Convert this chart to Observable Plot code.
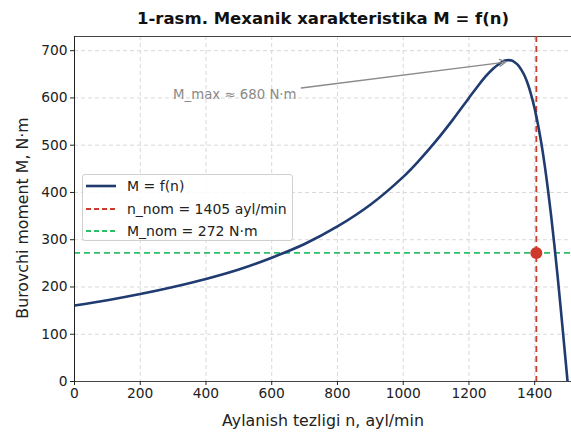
<!DOCTYPE html>
<html>
<head>
<meta charset="utf-8">
<script src="https://cdn.jsdelivr.net/npm/d3@7"></script>
<script src="https://cdn.jsdelivr.net/npm/@observablehq/plot@0.6"></script>
<style>
  body { margin: 0; background: #fff; }
  #wrap { position: relative; width: 571px; height: 434px; font-family: "DejaVu Sans", sans-serif; }
  #legend { position: absolute; left: 82px; top: 174px; width: 211px; height: 67px;
    border: 1px solid #d0d0d0; border-radius: 3px; background: rgba(255,255,255,0.85);
    font-size: 14px; color: #222; box-sizing: border-box; }
  .row { position: absolute; left: 3px; height: 20px; display: flex; align-items: center; }
  .row svg { margin-right: 11px; }
</style>
</head>
<body>
<div id="wrap"></div>
<script>
// Data
const speedN = [0, 100, 200, 300, 400, 500, 600, 700, 800, 900, 1000, 1050, 1100, 1150, 1200, 1225, 1250, 1275, 1290, 1300, 1310, 1320, 1330, 1340, 1350, 1360, 1370, 1380, 1390, 1400, 1410, 1420, 1430, 1440, 1450, 1460, 1470, 1480, 1490, 1500];
const torqueM = [161, 172, 185, 200, 217, 237, 262, 291, 328, 374, 433, 469, 509, 553, 600, 623, 645, 663, 671, 676, 679, 680, 679, 675, 669, 659, 646, 628, 605, 577, 544, 505, 460, 408, 351, 288, 221, 149, 75, 0];
const nNom = 1405;
const mNom = 272;
const mMax = 680;
const xTicks = [0, 200, 400, 600, 800, 1000, 1200, 1400];
const yTicks = [0, 100, 200, 300, 400, 500, 600, 700];
const titleText = "1-rasm. Mexanik xarakteristika M = f(n)";
const xLabel = "Aylanish tezligi n, ayl/min";
const yLabel = "Burovchi moment M, N·m";
const annotText = "M_max ≈ 680 N·m";
const legendLabels = ["M = f(n)", "n_nom = 1405 ayl/min", "M_nom = 272 N·m"];

const curveColor = "#1f3b70";
const redColor = "#cc3b2b";
const greenColor = "#2dbe68";

const curve = speedN.map((n, i) => ({n, m: torqueM[i]}));
const arrowData = [{x1: 690, y1: 621, x2: 1312, y2: 676}];
const font = "DejaVu Sans, sans-serif";

const chart = Plot.plot({
  width: 571,
  height: 434,
  marginLeft: 74,
  marginRight: 0,
  marginTop: 36,
  marginBottom: 53,
  style: {fontFamily: font, background: "#fff", color: "#222", overflow: "visible"},
  x: {domain: [0, 1512]},
  y: {domain: [0, 730]},
  marks: [
    Plot.gridX(xTicks, {stroke: "#d8d8d8", strokeOpacity: 1, strokeDasharray: "4,3"}),
    Plot.gridY(yTicks, {stroke: "#d8d8d8", strokeOpacity: 1, strokeDasharray: "4,3"}),
    Plot.ruleY([730], {stroke: "#444", strokeWidth: 1}),
    Plot.ruleY([mNom], {stroke: greenColor, strokeWidth: 1.8, strokeDasharray: "6,4"}),
    Plot.ruleX([nNom], {stroke: redColor, strokeWidth: 1.8, strokeDasharray: "6,4"}),
    Plot.line(curve, {x: "n", y: "m", stroke: curveColor, strokeWidth: 2.6, curve: "catmull-rom", clip: true}),
    Plot.dot([{n: nNom, m: mNom}], {x: "n", y: "m", r: 6, fill: redColor, stroke: "none"}),
    Plot.arrow(arrowData, {x1: "x1", y1: "y1", x2: "x2", y2: "y2", stroke: "#8a8a8a", strokeWidth: 1.3, headLength: 8}),
    Plot.text([annotText], {x: 300, y: 606, text: d => d, textAnchor: "start", fill: "#8a8a8a", fontSize: 13.3}),
    Plot.ruleX([0], {stroke: "#222", strokeWidth: 1}),
    Plot.ruleY([0], {stroke: "#444", strokeWidth: 1.2}),
    Plot.axisX(xTicks, {tickSize: 4, tickPadding: 3, fontSize: 13.8, tickFormat: d => String(d), label: null}),
    Plot.axisY(yTicks, {tickSize: 4, tickPadding: 3, fontSize: 13.8, tickFormat: d => String(d), label: null}),
    Plot.text([xLabel], {frameAnchor: "bottom", lineAnchor: "middle", dy: 39, text: d => d, fontSize: 15.8, fill: "#222"}),
    Plot.text([yLabel], {frameAnchor: "left", textAnchor: "middle", lineAnchor: "middle", dx: -52, dy: 9, rotate: -90, text: d => d, fontSize: 15.8, fill: "#222"}),
    Plot.text([titleText], {frameAnchor: "top", lineAnchor: "middle", dy: -18, text: d => d, fontSize: 16.5, fontWeight: "bold", fill: "#111"})
  ]
});

const wrap = document.getElementById("wrap");
wrap.appendChild(chart);

// Legend
const legend = document.createElement("div");
legend.id = "legend";
const swatches = [
  {color: curveColor, dash: null, w: 2.6},
  {color: redColor, dash: "5,3", w: 1.8},
  {color: greenColor, dash: "5,3", w: 1.8}
];
legendLabels.forEach((lab, i) => {
  const row = document.createElement("div");
  row.className = "row";
  row.style.top = (1 + i * 22.5) + "px";
  const s = swatches[i];
  row.innerHTML = `<svg width="30" height="10"><line x1="0" y1="5" x2="30" y2="5" stroke="${s.color}" stroke-width="${s.w}" ${s.dash ? `stroke-dasharray="${s.dash}"` : ""}/></svg><span>${lab}</span>`;
  legend.appendChild(row);
});
wrap.appendChild(legend);
</script>
</body>
</html>
